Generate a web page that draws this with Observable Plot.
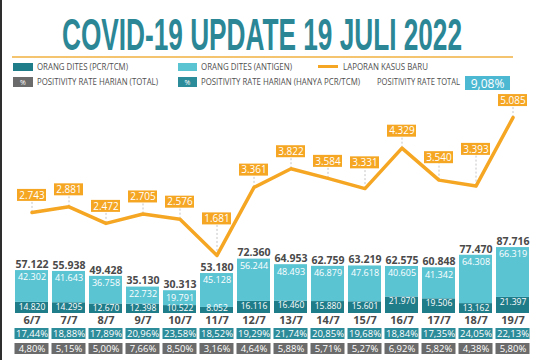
<!DOCTYPE html>
<html>
<head>
<meta charset="utf-8">
<script src="https://cdn.jsdelivr.net/npm/d3@7"></script>
<script src="https://cdn.jsdelivr.net/npm/@observablehq/plot@0.6"></script>
<style>
  html, body { margin: 0; padding: 0; background: #fff; }
  body { width: 537px; height: 360px; overflow: hidden; position: relative; font-family: "Open Sans", sans-serif; }
  #frame { position: absolute; left: 0; top: 0; width: 2px; height: 360px; background: #2e2e2e; z-index: 5; }
  #header { position: absolute; left: 0; top: 0; }
  #chart { position: absolute; left: 0; top: 95px; width: 537px; height: 232px; }
  #chart > svg { position: absolute; left: 0; top: 0; }
  #pct { position: absolute; left: 0; top: 327px; }
</style>
</head>
<body>
<div id="frame"></div>
<div id="header"></div>
<div id="chart"></div>
<div id="pct"></div>
<script>
// ---------- DATA ----------
const title = "COVID-19 UPDATE 19 JULI 2022";
const dates = ["6/7","7/7","8/7","9/7","10/7","11/7","12/7","13/7","14/7","15/7","16/7","17/7","18/7","19/7"];
const pcr = [14820,14295,12670,12398,10522,8052,16116,16460,15880,15601,21970,19506,13162,21397];
const antigen = [42302,41643,36758,22732,19791,45128,56244,48493,46879,47618,40605,41342,64308,66319];
const totalTested = [57122,55938,49428,35130,30313,53180,72360,64953,62759,63219,62575,60848,77470,87716];
const cases = [2743,2881,2472,2705,2576,1681,3361,3822,3584,3331,4329,3540,3393,5085];
const prPcr = [17.44,18.88,17.89,20.96,23.58,18.52,19.29,21.74,20.85,19.68,18.84,17.35,24.05,22.13];
const prTotal = [4.80,5.15,5.00,7.66,8.50,3.16,4.64,5.88,5.71,5.27,6.92,5.82,4.38,5.80];
const positivityRateTotal = 9.08;
const legendRow1 = ["ORANG DITES (PCR/TCM)", "ORANG DITES (ANTIGEN)", "LAPORAN KASUS BARU"];
const legendRow2 = ["POSITIVITY RATE HARIAN (TOTAL)", "POSITIVITY RATE HARIAN (HANYA PCR/TCM)", "POSITIVITY RATE TOTAL"];

// ---------- STYLE ----------
const C = {
  title: "#2b8796", pcr: "#1f7c89", antigen: "#5bc4d3", orange: "#f5a623",
  tealBox: "#2d8c9a", gray: "#6b6b6b", text: "#4a4a4a", legendText: "#505050", totalBox: "#4db8d2"
};
const locale = d3.formatLocale({decimal: ",", thousands: ".", grouping: [3], currency: ["", ""]});
const fmtInt = locale.format(",d");
const fmtPct = v => v.toFixed(2).replace(".", ",") + "%";

// ---------- HEADER (title + legend) ----------
const hdr = `
<svg width="537" height="95" xmlns="http://www.w3.org/2000/svg" font-family="'Open Sans', sans-serif">
  <g transform="translate(262,50) scale(1,1.8)">
    <text x="0" y="0" text-anchor="middle" textLength="400" lengthAdjust="spacingAndGlyphs"
          font-family="'Liberation Sans', Arial, sans-serif" font-weight="bold" font-size="24.5" fill="${C.title}">${title}</text>
  </g>
  <line x1="12" x2="513" y1="57" y2="57" stroke="#f1b23e" stroke-width="1.5"/>
  <rect x="13" y="63" width="20" height="8" fill="${C.pcr}"/>
  <text x="37" y="70" font-size="8.5" fill="${C.legendText}" textLength="91" lengthAdjust="spacingAndGlyphs">${legendRow1[0]}</text>
  <rect x="178" y="63" width="19" height="8" fill="${C.antigen}"/>
  <text x="201" y="70" font-size="8.5" fill="${C.legendText}" textLength="91" lengthAdjust="spacingAndGlyphs">${legendRow1[1]}</text>
  <line x1="318" x2="338" y1="66.5" y2="66.5" stroke="${C.orange}" stroke-width="3"/>
  <text x="343" y="70" font-size="8.5" fill="${C.legendText}" textLength="85" lengthAdjust="spacingAndGlyphs">${legendRow1[2]}</text>
  <rect x="13" y="77" width="20" height="10" fill="${C.gray}"/>
  <text x="23" y="84.5" text-anchor="middle" font-size="7" fill="#fff">%</text>
  <text x="37" y="85" font-size="8.5" fill="${C.legendText}" textLength="121" lengthAdjust="spacingAndGlyphs">${legendRow2[0]}</text>
  <rect x="178" y="77" width="19" height="10" fill="${C.tealBox}"/>
  <text x="187.5" y="84.5" text-anchor="middle" font-size="7" fill="#fff">%</text>
  <text x="201" y="85" font-size="8.5" fill="${C.legendText}" textLength="159" lengthAdjust="spacingAndGlyphs">${legendRow2[1]}</text>
  <text x="377" y="85" font-size="8.5" fill="${C.legendText}" textLength="83" lengthAdjust="spacingAndGlyphs">${legendRow2[2]}</text>
  <rect x="465" y="76" width="45" height="14" fill="${C.totalBox}"/>
  <text x="487.5" y="87.5" text-anchor="middle" font-size="12" fill="#fff">${fmtPct(positivityRateTotal)}</text>
</svg>`;
document.getElementById("header").innerHTML = hdr;

// ---------- CHART ----------
const W = 537, ML = 11.4, MR = 4.4, H = 232;
const X = {type: "band", domain: dates, paddingInner: 0.11, paddingOuter: 0.055, align: 0.5};

const stacked = dates.flatMap((d, i) => [
  {date: d, part: "PCR", value: pcr[i]},
  {date: d, part: "Antigen", value: antigen[i]}
]);

// line scale geometry
const lineMB = 4, lineMax = 5630;
const k = (H - lineMB) / lineMax; // px per case
const f = 14.5 / 37.2;            // label half-width relative to column step
const cols = dates.map((d, i) => {
  const v = cases[i];
  let top = v;
  for (const j of [i - 1, i + 1]) {
    if (j >= 0 && j < cases.length && cases[j] > v) top = Math.max(top, v + f * (cases[j] - v));
  }
  return {
    date: d, pcr: pcr[i], antigen: antigen[i], total: totalTested[i], cases: v,
    lab: Math.max(v + 17 / k, top + 10 / k)
  };
});

const common = {
  width: W, height: H, marginLeft: ML, marginRight: MR,
  style: {fontFamily: "'Open Sans', sans-serif", background: "transparent", overflow: "visible"}
};

const barsPlot = Plot.plot({
  ...common,
  marginTop: 0, marginBottom: 14,
  x: {...X},
  y: {domain: [0, 290000], axis: null},
  color: {domain: ["PCR", "Antigen"], range: [C.pcr, C.antigen]},
  marks: [
    Plot.barY(stacked, {x: "date", y: "value", fill: "part"}),
    Plot.text(cols, {x: "date", y: "total", text: d => fmtInt(d.total), dy: -6, fontSize: 10.5, fontWeight: "bold", fill: C.text}),
    Plot.text(cols, {x: "date", y: "total", text: d => fmtInt(d.antigen), dy: 7, fontSize: 9, fill: "#fff"}),
    // keep the PCR label inside the bar even when the PCR segment is short
    Plot.text(cols, {x: "date", y: d => Math.max(d.pcr, 12500), text: d => fmtInt(d.pcr), dy: 4.5, fontSize: 8.5, fill: "#fff"}),
    Plot.axisX({tickSize: 0, tickPadding: 3, fontSize: 11, fontWeight: "bold", color: C.text, label: null})
  ]
});

const linePlot = Plot.plot({
  ...common,
  marginTop: 0, marginBottom: lineMB,
  x: {...X, axis: null},
  y: {domain: [0, lineMax], axis: null},
  marks: [
    Plot.ruleX(cols, {x: "date", y1: "cases", y2: d => d.lab - 6 / k, stroke: "#b5b5b5", strokeWidth: 0.8, strokeDasharray: "2,2"}),
    Plot.line(cols, {x: "date", y: "cases", stroke: C.orange, strokeWidth: 3.5}),
    Plot.barY(cols, {x: "date", y1: d => d.lab - 6 / k, y2: d => d.lab + 6 / k, fill: C.orange, insetLeft: 2, insetRight: 2}),
    Plot.text(cols, {x: "date", y: "lab", text: d => fmtInt(d.cases), fill: "#fff", fontSize: 10})
  ]
});

document.getElementById("chart").append(barsPlot, linePlot);

// ---------- POSITIVITY RATE ROWS ----------
const pctRows = dates.flatMap((d, i) => [
  {date: d, row: "pcr", v: prPcr[i]},
  {date: d, row: "total", v: prTotal[i]}
]);
const pctPlot = Plot.plot({
  ...common,
  height: 33, marginTop: 0, marginBottom: 5.5,
  x: {...X, axis: null},
  y: {type: "band", domain: ["pcr", "total"], paddingInner: 0.28, paddingOuter: 0, axis: null},
  color: {domain: ["pcr", "total"], range: [C.tealBox, C.gray]},
  marks: [
    Plot.cell(pctRows, {x: "date", y: "row", fill: "row", insetLeft: -0.5, insetRight: -0.5, insetTop: 0, insetBottom: 0}),
    Plot.text(pctRows, {x: "date", y: "row", text: d => fmtPct(d.v), fill: "#fff", fontSize: 9.5})
  ]
});
document.getElementById("pct").append(pctPlot);
</script>
</body>
</html>
